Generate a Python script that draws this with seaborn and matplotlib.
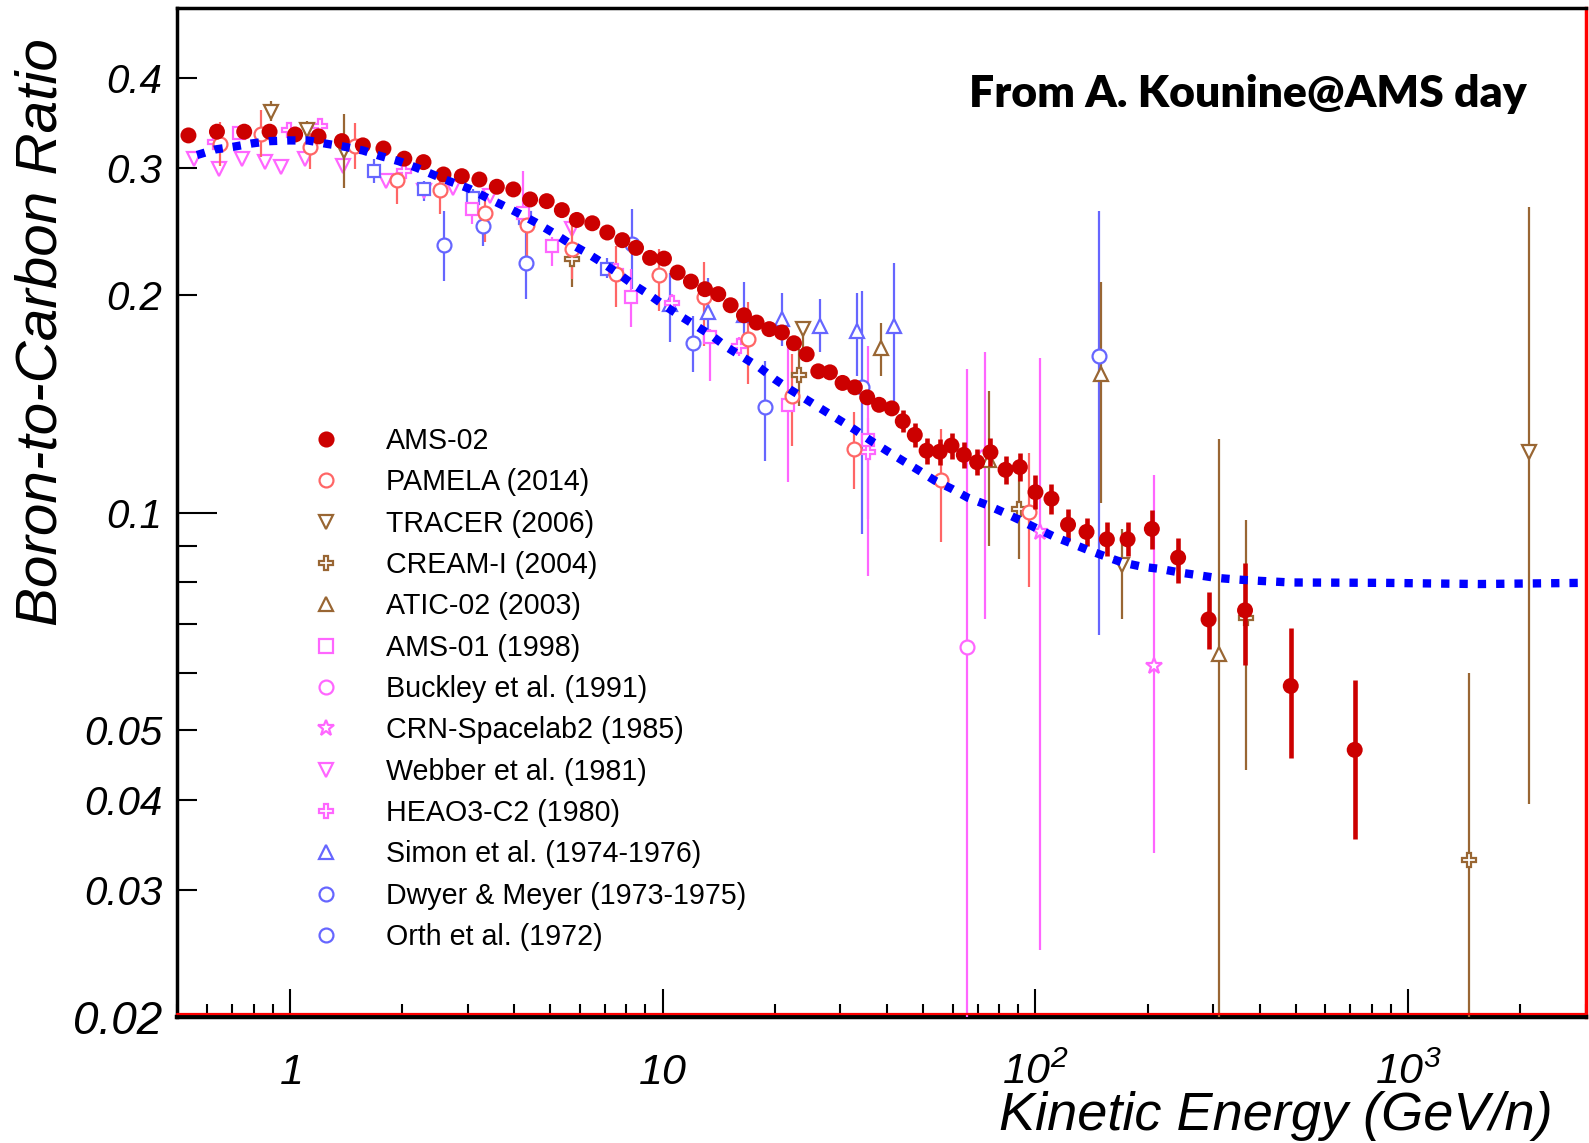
import numpy as np
import matplotlib
matplotlib.use('Agg')
import matplotlib.pyplot as plt
import matplotlib.transforms as mtransforms
from matplotlib.lines import Line2D
from matplotlib.ticker import FixedLocator, LogLocator, NullFormatter
import seaborn as sns

# AMS-02 B/C ratio (filled red dots)
ams_x = [0.535, 0.638, 0.755, 0.883, 1.034, 1.195, 1.38, 1.571, 1.784, 2.03,
         2.285, 2.585, 2.895, 3.227, 3.594, 3.98, 4.414, 4.89, 5.37, 5.89,
         6.48, 7.11, 7.80, 8.49, 9.26, 10.09, 10.98, 11.92, 13.0, 14.11,
         15.23, 16.54, 17.88, 19.34, 20.91, 22.52, 24.36, 26.17, 28.12, 30.41,
         32.8, 35.4, 38.1, 41.2, 44.1, 47.5, 51.1, 55.4, 59.6, 64.3,
         69.8, 75.8, 83.2, 90.9, 100.1, 110.5, 122.4, 137.2, 155.6, 176.8,
         205.4, 241.6, 291.6, 365.2, 484.4, 719]
ams_y = [0.333, 0.337, 0.337, 0.337, 0.334, 0.332, 0.327, 0.3226, 0.3194, 0.3092,
         0.3058, 0.294, 0.2924, 0.2893, 0.2827, 0.2803, 0.2715, 0.270, 0.2624, 0.2543,
         0.2516, 0.2443, 0.2384, 0.2326, 0.2253, 0.2248, 0.2150, 0.2089, 0.2039, 0.2007,
         0.1937, 0.1876, 0.1833, 0.1795, 0.1776, 0.1716, 0.1657, 0.1569, 0.1564, 0.1512,
         0.1491, 0.1444, 0.1410, 0.1394, 0.1338, 0.1281, 0.1218, 0.1214, 0.1238, 0.1202,
         0.1174, 0.1212, 0.1146, 0.1156, 0.1067, 0.1045, 0.0962, 0.0940, 0.0918, 0.0918,
         0.0949, 0.0866, 0.0711, 0.0732, 0.0575, 0.0469]
# visible error bars, from the 45th point on
ams_bar_start = 44
ams_lo = [0.1292, 0.1233, 0.1169, 0.1165, 0.1188, 0.1153, 0.1126, 0.1159, 0.1096, 0.1106,
          0.1011, 0.0996, 0.0914, 0.0899, 0.0870, 0.0870, 0.0890, 0.0798, 0.0646, 0.0614,
          0.0457, 0.0353]
ams_hi = [0.1386, 0.1331, 0.1270, 0.1265, 0.1290, 0.1253, 0.1224, 0.1267, 0.1198, 0.1209,
          0.1126, 0.1096, 0.1012, 0.0983, 0.0969, 0.0969, 0.1008, 0.0922, 0.0776, 0.0850,
          0.0692, 0.0587]

# propagation model (blue dotted)
model_x = [0.564, 0.631, 0.707, 0.792, 0.886, 0.997, 1.119, 1.253, 1.403, 1.571,
           1.756, 1.963, 2.193, 2.445, 2.722, 3.034, 3.364, 3.729, 4.13, 4.58,
           5.08, 5.59, 6.20, 6.84, 7.54, 8.32, 9.16, 10.09, 11.14, 12.30,
           13.57, 14.92, 16.47, 18.18, 20.0, 22.06, 24.36, 26.89, 29.68, 32.82,
           36.15, 39.92, 44.06, 48.8, 53.8, 59.6, 66.0, 74.0, 82.0, 91.3,
           101.1, 112.8, 125.8, 139.4, 170.7, 193.9, 217.7, 243.4, 268.2, 304.7,
           342.2, 384.3, 484.5, 865, 1545, 2950]
model_y = [0.3128, 0.3184, 0.3212, 0.3246, 0.3270, 0.3277, 0.3277, 0.3243, 0.3212, 0.3174,
           0.3117, 0.3067, 0.3003, 0.2933, 0.2869, 0.2809, 0.2733, 0.2664, 0.2594, 0.2521,
           0.2442, 0.2366, 0.2296, 0.2224, 0.2150, 0.2072, 0.2007, 0.1937, 0.1873, 0.1814,
           0.1757, 0.1693, 0.1640, 0.1589, 0.1530, 0.1479, 0.1433, 0.1388, 0.1345, 0.1302,
           0.1258, 0.1218, 0.1180, 0.1143, 0.1107, 0.1079, 0.1048, 0.1025, 0.1001, 0.0975,
           0.0950, 0.0925, 0.0905, 0.0886, 0.0853, 0.0841, 0.0835, 0.0826, 0.0820, 0.0812,
           0.0808, 0.0805, 0.0800, 0.0799, 0.0796, 0.0799]

pamela_x = [0.651, 0.840, 1.130, 1.501, 1.945, 2.532, 3.343, 4.34, 5.71, 7.49,
            9.80, 12.94, 16.92, 22.20, 32.7, 56.0, 96.1]
pamela_y = [0.3243, 0.3346, 0.3212, 0.3215, 0.2887, 0.2796, 0.2597, 0.2502, 0.2321, 0.2139,
            0.2132, 0.1986, 0.1739, 0.1451, 0.1225, 0.1110, 0.1001]
pamela_lo = [0.302, 0.3105, 0.2988, 0.2988, 0.2673, 0.2589, 0.2367, 0.2267, 0.2104, 0.1924,
             0.1903, 0.1702, 0.1507, 0.1238, 0.1078, 0.0911, 0.0789]
pamela_hi = [0.3473, 0.3606, 0.3358, 0.3466, 0.2959, 0.2988, 0.2777, 0.2645, 0.2508, 0.2340,
             0.2316, 0.2222, 0.1956, 0.1658, 0.1378, 0.1305, 0.1209]

tracer_x = [0.89, 1.11, 1.40, 23.8, 170.3, 2107]
tracer_y = [0.3586, 0.339, 0.317, 0.1795, 0.0845, 0.1213]
tracer_lo = [0.3484, 0.3201, 0.2818, 0.1684, 0.0713, 0.0395]
tracer_hi = [0.3713, 0.3484, 0.356, 0.1843, 0.0950, 0.2650]

cream_x = [5.71, 23.2, 90.3, 366.7, 1458]
cream_y = [0.2243, 0.1551, 0.1012, 0.0715, 0.0330]
cream_lo = [0.2050, 0.1406, 0.0863, 0.0440, 0.015]
cream_hi = [0.2316, 0.1684, 0.1174, 0.0975, 0.0599]

atic_x = [38.5, 75.2, 150.2, 310.5]
atic_y = [0.1688, 0.1183, 0.1554, 0.0637]
atic_lo = [0.1547, 0.0900, 0.1030, 0.015]
atic_hi = [0.1833, 0.1475, 0.2084, 0.1266]

ams01_x = [0.729, 3.08, 4.22, 5.05, 8.25, 13.41, 21.75, 35.6]
ams01_y = [0.3358, 0.263, 0.2603, 0.2340, 0.1990, 0.1748, 0.1409, 0.1260]
ams01_lo = [0.3300, 0.2508, 0.2468, 0.2196, 0.1805, 0.1523, 0.1101, 0.098]
ams01_hi = [0.3420, 0.2673, 0.2972, 0.2405, 0.2174, 0.1795, 0.1693, 0.1702]

buckley_x = [65.7, 73.5]
buckley_y = [0.0651, 0.1199]
buckley_lo = [0.015, 0.0713]
buckley_hi = [0.158, 0.1667]

crn_x = [102.8, 207.8]
crn_y = [0.0940, 0.0613]
crn_lo = [0.0248, 0.0338]
crn_hi = [0.1636, 0.1128]

webber_x = [0.552, 0.648, 0.744, 0.860, 0.949, 1.10, 1.394, 1.814, 2.285, 2.749, 3.447, 5.71]
webber_y = [0.3085, 0.2988, 0.3085, 0.3058, 0.3014, 0.3085, 0.302, 0.2878, 0.2788, 0.2818, 0.2744, 0.2468]

heao_x = [0.630, 0.993, 1.207, 2.02, 7.50, 10.58, 16.07, 35.6]
heao_y = [0.3256, 0.3386, 0.3429, 0.2972, 0.2161, 0.1954, 0.1702, 0.1214]
heao_lo = [0.318, 0.332, 0.336, 0.291, 0.211, 0.190, 0.165, 0.0816]
heao_hi = [0.333, 0.345, 0.350, 0.303, 0.221, 0.201, 0.175, 0.135]

simon_x = [10.47, 13.22, 16.54, 20.95, 26.45, 33.3, 41.75]
simon_y = [0.1944, 0.1893, 0.1876, 0.1852, 0.1813, 0.1784, 0.1813]
simon_lo = [0.1721, 0.1757, 0.1702, 0.1702, 0.1667, 0.1547, 0.1406]
simon_hi = [0.2150, 0.2116, 0.2084, 0.2017, 0.1975, 0.2017, 0.2220]

dwyer_x = [2.60, 3.296, 4.30, 8.30, 12.05, 18.83, 34.2, 148.0]
dwyer_y = [0.2348, 0.2495, 0.2214, 0.2355, 0.1716, 0.1399, 0.1491, 0.1647]
dwyer_lo = [0.2094, 0.2340, 0.1975, 0.2039, 0.1564, 0.1180, 0.0934, 0.0677]
dwyer_hi = [0.2617, 0.2607, 0.2468, 0.263, 0.1873, 0.1623, 0.2028, 0.2618]

orth_x = [1.685, 2.294, 3.098, 4.28, 7.09]
orth_y = [0.2972, 0.2803, 0.2730, 0.2562, 0.2178]
orth_lo = [0.2864, 0.2701, 0.265, 0.249, 0.211]
orth_hi = [0.3085, 0.2878, 0.281, 0.264, 0.225]

RED = '#CC0000'
SALMON = '#FF6666'
BROWN = '#996633'
PINK = '#FF66FF'
LBLUE = '#6666FF'

sns.set_theme(style='white')
plt.rcParams['font.family'] = ['Liberation Sans', 'DejaVu Sans']
plt.rcParams['mathtext.fontset'] = 'custom'
plt.rcParams['mathtext.rm'] = 'Liberation Sans:italic'
plt.rcParams['mathtext.it'] = 'Liberation Sans:italic'
for key in ['text.color', 'axes.labelcolor', 'xtick.color', 'ytick.color']:
    plt.rcParams[key] = 'black'

fig = plt.figure(figsize=(15.89, 11.43), dpi=100)
ax = fig.add_axes([0.1117, 0.1102, 0.8864, 0.8828])
ax.set_xscale('log')
ax.set_yscale('log')


def draw(x, y, lo, hi, marker, color, ms=10, z=3):
    x = np.array(x)
    y = np.array(y)
    err = [y - np.array(lo), np.array(hi) - y]
    ax.errorbar(x, y, yerr=err, fmt=marker, ms=ms, mfc='white', mec=color, mew=1.6,
                ecolor=color, elinewidth=1.6, capsize=0, zorder=z)


draw(orth_x, orth_y, orth_lo, orth_hi, 's', LBLUE, ms=9)
draw(dwyer_x, dwyer_y, dwyer_lo, dwyer_hi, 'o', LBLUE)
draw(simon_x, simon_y, simon_lo, simon_hi, '^', LBLUE)
draw(heao_x, heao_y, heao_lo, heao_hi, 'P', PINK)
ax.plot(webber_x, webber_y, 'v', ms=10, mfc='none', mec=PINK, mew=1.6, zorder=3)
draw(crn_x, crn_y, crn_lo, crn_hi, '*', PINK, ms=12)
draw(buckley_x, buckley_y, buckley_lo, buckley_hi, 'o', PINK)
draw(ams01_x, ams01_y, ams01_lo, ams01_hi, 's', PINK, ms=9)
draw(atic_x, atic_y, atic_lo, atic_hi, '^', BROWN)
draw(cream_x, cream_y, cream_lo, cream_hi, 'P', BROWN)
draw(tracer_x, tracer_y, tracer_lo, tracer_hi, 'v', BROWN)
draw(pamela_x, pamela_y, pamela_lo, pamela_hi, 'o', SALMON)

# AMS-02
ax.vlines(ams_x[ams_bar_start:], ams_lo, ams_hi, color=RED, lw=3.3, zorder=6)
sns.scatterplot(x=ams_x, y=ams_y, color=RED, s=11.5 ** 2, edgecolor='none', ax=ax, zorder=6)

# model curve
sns.lineplot(x=model_x, y=model_y, ax=ax, color='#0000FF', linewidth=6,
             linestyle=(0, (1, 1.2)), errorbar=None, zorder=8)

ax.set_xlim(0.5, 3000)
ax.set_ylim(0.02, 0.5)

# axes cosmetics
for side in ['top', 'left', 'bottom']:
    ax.spines[side].set_color('black')
    ax.spines[side].set_linewidth(2.5)
ax.spines['bottom'].set_linewidth(3.2)
ax.spines['right'].set_color('red')
ax.spines['right'].set_linewidth(2.5)
red_off = mtransforms.offset_copy(ax.transAxes, fig=fig, y=3, units='dots')
ax.plot([0, 1], [0, 0], transform=red_off, color='red', lw=1.6, clip_on=False, zorder=20)

ax.xaxis.set_major_locator(FixedLocator([1, 10, 100, 1000]))
ax.xaxis.set_minor_locator(LogLocator(base=10, subs=np.arange(2, 10)))
ax.xaxis.set_minor_formatter(NullFormatter())
ax.set_xticklabels(['$1$', '$10$', '$10^{2}$', '$10^{3}$'], va='baseline', fontsize=31)

yt = [0.02, 0.03, 0.04, 0.05, 0.1, 0.2, 0.3, 0.4]
ax.yaxis.set_major_locator(FixedLocator(yt))
ax.yaxis.set_minor_locator(FixedLocator([0.06, 0.07, 0.08, 0.09]))
ax.yaxis.set_minor_formatter(NullFormatter())
ax.set_yticklabels(['0.02', '0.03', '0.04', '0.05', '0.1', '0.2', '0.3', '0.4'],
                   fontstyle='italic', fontsize=29)
ax.get_yticklabels()[0].set_fontsize(33)

ax.tick_params(axis='both', which='both', direction='in', bottom=True, left=True,
               top=False, right=False, width=1.5, color='black')
ax.tick_params(axis='x', which='major', length=20, pad=48)
ax.tick_params(axis='x', which='minor', length=9.5)
ax.tick_params(axis='y', which='both', length=14.5, pad=11)
for t in ax.yaxis.get_major_ticks():
    if abs(t.get_loc() - 0.1) < 1e-9:
        t.tick1line.set_markersize(29)
    if abs(t.get_loc() - 0.02) < 1e-9:
        t.tick1line.set_markersize(0)

ax.set_xlabel('Kinetic Energy (GeV/n)', fontsize=39, fontstyle='italic', loc='right')
ax.xaxis.set_label_coords(0.976, -0.112)
ax.xaxis.label.set_verticalalignment('baseline')
ax.set_ylabel('Boron-to-Carbon Ratio', fontsize=42, fontstyle='italic')
ax.yaxis.set_label_coords(-0.0771, 0.679)

ax.text(0.958, 0.915, 'From A. Kounine@AMS day', transform=ax.transAxes, ha='right',
        va='center', fontsize=32, fontweight='heavy', color='black',
        family=['Lato', 'DejaVu Sans'])

# legend
leg_items = [
    ('AMS-02', 'o', RED, RED),
    ('PAMELA (2014)', 'o', SALMON, 'none'),
    ('TRACER (2006)', 'v', BROWN, 'none'),
    ('CREAM-I (2004)', 'P', BROWN, 'none'),
    ('ATIC-02 (2003)', '^', BROWN, 'none'),
    ('AMS-01 (1998)', 's', PINK, 'none'),
    ('Buckley et al. (1991)', 'o', PINK, 'none'),
    ('CRN-Spacelab2 (1985)', '*', PINK, 'none'),
    ('Webber et al. (1981)', 'v', PINK, 'none'),
    ('HEAO3-C2 (1980)', 'P', PINK, 'none'),
    ('Simon et al. (1974-1976)', '^', LBLUE, 'none'),
    ('Dwyer & Meyer (1973-1975)', 'o', LBLUE, 'none'),
    ('Orth et al. (1972)', 'o', LBLUE, 'none'),
]
handles = []
for lab, m, c, fc in leg_items:
    handles.append(Line2D([], [], ls='none', marker=m, ms=12 if m == '*' else 10,
                          mfc=fc, mec=c, mew=1.6))
ax.legend(handles, [it[0] for it in leg_items], loc='upper left',
          bbox_to_anchor=(0.0951, 0.5847), frameon=False, fontsize=20.6,
          handlelength=1.0, handletextpad=1.62, labelspacing=0.466,
          borderpad=0, borderaxespad=0)

fig.savefig('out.png', dpi=100)
